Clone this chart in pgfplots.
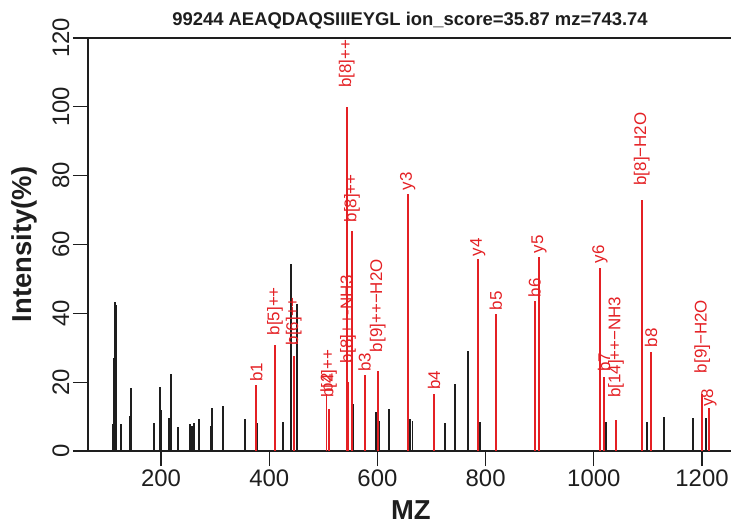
\documentclass[border=0pt]{standalone}
\usepackage{pgfplots}
\pgfplotsset{compat=1.18}
\usepackage{pgfplotstable}
\usepackage{fontspec}
\setmainfont{Liberation Sans}

\definecolor{ionred}{RGB}{228,32,36}
\definecolor{peakgray}{RGB}{30,30,30}

% unmatched peaks
\pgfplotstableread{
mz int
110.7 7.8
113.1 27
115.5 43.3
116.8 42.5
125.5 7.8
142.7 10.1
144.5 18.2
187.6 8
197.6 11.5
198.2 18.5
200.0 12
214.2 9.6
218.5 22.4
230.9 7
254.2 7.8
256.7 7.2
261.6 8.1
270.8 9.3
292.4 7.4
294.3 12.4
314.6 13
354.7 9.2
378.0 8.2
425.0 8.5
426.5 7.5
439.7 54.2
450.8 42.8
544.3 20
555.0 13.6
596.8 11.4
604.0 8.8
622.0 12.2
660.8 9.2
665.0 8.6
725.0 8.2
743.4 19.6
767.0 29
789.0 8.3
1022.6 8.3
1098.0 8.5
1130.0 10
1182.8 9.5
1207.4 9.5
}\otherpeaks

% annotated fragment ions: position, intensity, label, label baseline
\pgfplotstableread{
mz int lab laby
376.2 19.1 b1 20.1
410.7 30.9 b[5]++ 33.6
445.3 27.7 b[6]++ 30.7
505.8 16.5 b2 17.0
510.5 12.2 b[4]++ 15.4
543.2 100 b[8]++ 105.5
545.6 20 b[8]++-NH3 25.5
553.0 63.8 b[8]++ 66.4
576.4 22 b3 22.9
600.5 23.2 b[9]++−H2O 28.7
656.0 74.7 y3 75.7
704.6 16.5 b4 17.7
785.4 55.7 y4 56.5
819.0 39.7 b5 40.9
890.7 43.5 b6 44.6
898.7 56.3 y5 57.4
1011.5 53.2 y6 54.5
1018.9 21.4 b7 22.9
1041.0 9 b[14]++−NH3 15.4
1088.5 73 b[8]−H2O 77.1
1105.7 28.8 b8 30.1
1200.6 16.7 b[9]−H2O 22.6
1213.0 12.4 y8 12.8
}\ionpeaks

\begin{document}
\begin{tikzpicture}
\begin{axis}[
    scale only axis,
    width=643bp, height=413bp,
    xmin=65, xmax=1253.6,
    ymin=0, ymax=120,
    clip=false,
    axis lines=left,
    axis line style={-, line width=1.1bp, draw=peakgray},
    xtick={200,400,...,1200},
    ytick={0,20,...,120},
    tick align=outside,
    major tick length=15bp,
    tick style={line width=1.1bp, draw=peakgray},
    ticklabel style={font=\fontsize{24}{28}\selectfont, text=peakgray},
    /pgf/number format/assume math mode=true,
    /pgf/number format/1000 sep={},
    yticklabel style={rotate=90, anchor=south},
    title={99244 AEAQDAQSIIIEYGL ion\_score=35.87 mz=743.74},
    title style={at={(axis description cs:0.5008,1.028)}, anchor=center,
        font=\bfseries\fontsize{18.5}{22}\selectfont, text=peakgray},
    xlabel={MZ},
    xlabel style={at={(axis description cs:0.502,-0.1429)}, anchor=center,
        font=\bfseries\fontsize{27.5}{32}\selectfont, text=peakgray},
    ylabel={Intensity(\%)},
    ylabel style={at={(axis description cs:-0.0995,0.5)}, anchor=center,
        font=\bfseries\fontsize{27.5}{32}\selectfont, text=peakgray},
]
\addplot[ycomb, line width=1.8bp, peakgray] table[x=mz, y=int] {\otherpeaks};
\addplot[ycomb, line width=1.8bp, ionred] table[x=mz, y=int] {\ionpeaks};
\addplot[draw=none, nodes near coords, point meta=explicit symbolic,
    every node near coord/.append style={rotate=90, anchor=west, inner sep=0pt,
        text=ionred, font=\fontsize{17}{20}\selectfont}]
    table[x=mz, y=laby, meta=lab] {\ionpeaks};
\draw[line width=1.1bp, peakgray] (rel axis cs:0,1) -- (rel axis cs:1,1);
\end{axis}
\pgfresetboundingbox
\useasboundingbox (-88bp,-76bp) rectangle (643bp,451bp);
\end{tikzpicture}
\end{document}
